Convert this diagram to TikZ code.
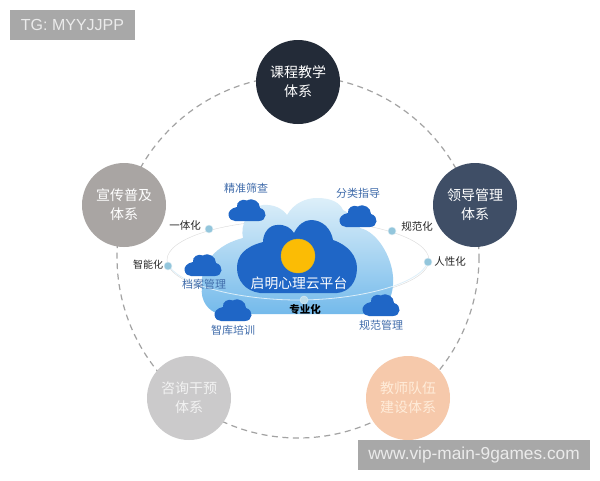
\documentclass[tikz,border=0pt]{standalone}
\usepackage{fontspec}
\setmainfont{Noto Sans CJK SC}
\newfontfamily\tagfont{Liberation Sans}
\usetikzlibrary{shadings}

\definecolor{ringgray}{HTML}{A3A3A3}
\definecolor{cloudblue}{HTML}{1F66C6}
\definecolor{labelblue}{HTML}{3F6BAA}
\definecolor{dotblue}{HTML}{93C6DC}
\definecolor{tagbg}{HTML}{A8A8A8}
\definecolor{skytop}{HTML}{DDEFF9}
\definecolor{skymid}{HTML}{B0DAF3}
\definecolor{skylow}{HTML}{74BAEB}
\definecolor{sysdark}{HTML}{232B38}
\definecolor{sysslate}{HTML}{3F4E66}
\definecolor{sysstone}{HTML}{A9A5A3}
\definecolor{syspale}{HTML}{CBCACB}
\definecolor{syspeach}{HTML}{F6C9AB}

\def\rsys{42}
\def\xm{298}
\def\ym{257}

\tikzset{
  sysnode/.style={circle,minimum size=2*\rsys pt,inner sep=0pt,align=center,text=white,font=\fontsize{14}{19}\selectfont},
  dotnode/.style={circle,fill=dotblue,draw=white!70!dotblue,minimum size=8pt,inner sep=0pt},
  blacklabel/.style={inner sep=0pt,text=black!85,font=\fontsize{10.5}{12}\selectfont},
  bluelabel/.style={inner sep=0pt,text=labelblue,font=\fontsize{11}{12}\selectfont},
  tagnode/.style={fill=tagbg,inner sep=0pt,text=white!92!black},
  smallcloud/.pic={
    \fill[cloudblue] (-12,11) -- (12,11) .. controls (20,11) and (21,0) .. (13,-2)
      .. controls (13,-8) and (6,-13) .. (0,-9.5) .. controls (-5,-12) and (-11,-8) .. (-10,-3)
      .. controls (-16,-2) and (-19,2) .. (-18.5,5) .. controls (-18,9) and (-15,11) .. (-12,11) -- cycle;
  }
}

\begin{document}
\begin{tikzpicture}[x=1pt,y=-1pt]
 \useasboundingbox (0,0) rectangle (600,480);
 \fill[white] (0,0) rectangle (600,480);

 % ring
 \draw[ringgray,line width=1.2pt,dash pattern=on 6pt off 4.5pt] (\xm,\ym) circle [radius=181];

 % orbit and big cloud
 \draw[gray!30] (\xm,260) ellipse [x radius=131,y radius=40];
 \path[top color=skytop,middle color=skymid,bottom color=skylow]
   (220,314) .. controls (208,312) and (200,300) .. (202,287)
   .. controls (200,272) and (208,247) .. (243,238)
   .. controls (240,226) and (248,206) .. (263,205)
   .. controls (274,204) and (283,209) .. (287,215)
   .. controls (294,203) and (306,198) .. (317,198)
   .. controls (332,198) and (340,203) .. (343,210)
   .. controls (352,214) and (358,222) .. (360,228)
   .. controls (378,232) and (392,258) .. (393,277)
   .. controls (394,290) and (390,300) .. (387,303)
   .. controls (382,310) and (376,314) .. (370,314) -- cycle;
 \draw[skytop,line width=0.8pt] (167,262) .. controls (175,285) and (240,300) .. (298,300)
   .. controls (356,300) and (420,285) .. (428,262);

 % inner cloud
 \fill[cloudblue] (260,293) .. controls (245,291) and (237,280) .. (237,268)
   .. controls (237,256) and (244,247) .. (263,242)
   .. controls (263,232) and (270,225) .. (277,225)
   .. controls (285,224) and (291,228) .. (294,233)
   .. controls (298,225) and (304,220) .. (311,220)
   .. controls (322,220) and (331,228) .. (333,240)
   .. controls (348,245) and (357,256) .. (357,268)
   .. controls (357,282) and (349,292) .. (337,293) -- cycle;
 \node[circle,fill={rgb,255:red,251;green,188;blue,5},draw=orange!40!yellow!70!gray,minimum size=34pt,inner sep=0pt] (sun) at (298,256) {};
 \node[inner sep=0pt,text=white,font=\fontsize{13.8}{16}\selectfont] (platform) at (299,283) {启明心理云平台};

 % small clouds
 \pic at (247,210) {smallcloud};
 \pic at (358,216) {smallcloud};
 \pic at (203,265) {smallcloud};
 \pic at (233,310) {smallcloud};
 \pic at (381,305) {smallcloud};

 \node[bluelabel] (jz) at (246,188) {精准筛查};
 \node[bluelabel] (fl) at (358,193) {分类指导};
 \node[bluelabel] (da) at (204,284) {档案管理};
 \node[bluelabel] (zk) at (233,330) {智库培训};
 \node[bluelabel] (gf) at (381,325) {规范管理};

 % dots and their labels
 \node[dotnode] (d1) at (209,229) {};
 \node[dotnode] (d2) at (392,231) {};
 \node[dotnode] (d3) at (168,266) {};
 \node[dotnode] (d4) at (428,262) {};
 \node[dotnode,fill=dotblue!60!white] (d5) at (304,300) {};

 \node[blacklabel] (yt) at (185,226) {一体化};
 \node[blacklabel] (gh) at (417,227) {规范化};
 \node[blacklabel,font=\fontsize{10}{12}\selectfont] (zn) at (148,265) {智能化};
 \node[blacklabel] (rx) at (450,262) {人性化};
 \node[blacklabel,text=black,font=\fontsize{10.5}{12}\selectfont\bfseries] (zy) at (305,310) {专业化};

 % systems
 \node[sysnode,fill=sysdark] (top) at (298,82) {课程教学\\体系};
 \node[sysnode,fill=sysslate] (right) at (475,205) {领导管理\\体系};
 \node[sysnode,fill=sysstone] (left) at (124,205) {宣传普及\\体系};
 \node[sysnode,fill=syspale,text=white!90!gray] (bl) at (189,398) {咨询干预\\体系};
 \node[sysnode,fill=syspeach,text=white!85!orange] (br) at (408,398) {教师队伍\\建设体系};

 % tags
 \node[tagnode,minimum width=125pt,minimum height=30pt,font=\tagfont\fontsize{16}{18}\selectfont] (tg) at (72.5,25) {TG: MYYJJPP};
 \node[tagnode,minimum width=232pt,minimum height=30pt,font=\tagfont\fontsize{17.3}{18}\selectfont] (www) at (474,455) {www.vip-main-9games.com};
\end{tikzpicture}
\end{document}
